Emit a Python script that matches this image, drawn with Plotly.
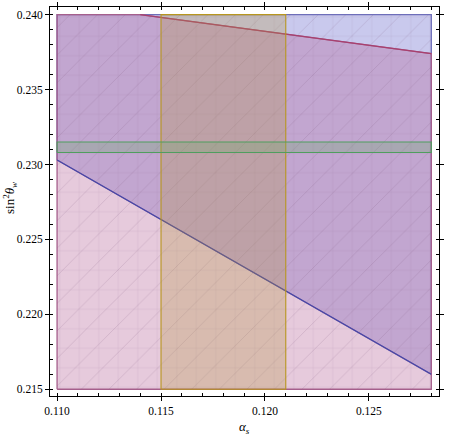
import plotly.graph_objects as go

# ---- data ----
x_range = [0.110, 0.128]          # alpha_s extent of regions
y_range = [0.215, 0.240]          # sin^2 theta_w extent of regions
blue_line_x = [0.110, 0.128]      # lower boundary of blue region
blue_line_y = [0.2303, 0.2160]
red_line_x = [0.114, 0.128]       # upper boundary of pink region
red_line_y = [0.240, 0.2374]
alpha_band = [0.115, 0.121]       # vertical band
sin2_band = [0.2308, 0.2315]      # horizontal band

x_ticks = [0.110, 0.115, 0.120, 0.125]
y_ticks = [0.215, 0.220, 0.225, 0.230, 0.235, 0.240]

fig = go.Figure()

# blue region (above blue line)
fig.add_trace(go.Scatter(
    x=[blue_line_x[0], blue_line_x[1], x_range[1], x_range[0], blue_line_x[0]],
    y=[blue_line_y[0], blue_line_y[1], y_range[1], y_range[1], blue_line_y[0]],
    fill="toself", mode="lines",
    fillcolor="rgba(90,90,200,0.33)",
    line=dict(color="rgba(110,110,185,1)", width=1.3),
    hoverinfo="skip", showlegend=False))

# pink region (below red line)
fig.add_trace(go.Scatter(
    x=[x_range[0], x_range[1], x_range[1], red_line_x[0], x_range[0], x_range[0]],
    y=[y_range[0], y_range[0], red_line_y[1], red_line_y[0], y_range[1], y_range[0]],
    fill="toself", mode="lines",
    fillcolor="rgba(180,95,150,0.33)",
    line=dict(color="rgba(165,95,140,1)", width=1.3),
    hoverinfo="skip", showlegend=False))

# boundary lines on top of the fills
fig.add_trace(go.Scatter(x=blue_line_x, y=blue_line_y, mode="lines",
    line=dict(color="#4646a6", width=1.2), hoverinfo="skip", showlegend=False))
fig.add_trace(go.Scatter(x=red_line_x, y=red_line_y, mode="lines",
    line=dict(color="#a8406e", width=1.2), hoverinfo="skip", showlegend=False))

# faint mesh texture across the regions
rect_x = [x_range[0], x_range[1], x_range[1], x_range[0], x_range[0]]
rect_y = [y_range[0], y_range[0], y_range[1], y_range[1], y_range[0]]
for shape in ["+", "/"]:
    fig.add_trace(go.Scatter(
        x=rect_x, y=rect_y, fill="toself", mode="none",
        fillcolor="rgba(0,0,0,0)",
        fillpattern=dict(shape=shape, size=19.5, solidity=0.05,
                         fgcolor="rgba(120,80,120,1)", fgopacity=0.18,
                         bgcolor="rgba(0,0,0,0)"),
        hoverinfo="skip", showlegend=False))

# alpha_s band
fig.add_trace(go.Scatter(
    x=[alpha_band[0], alpha_band[1], alpha_band[1], alpha_band[0], alpha_band[0]],
    y=[y_range[0], y_range[0], y_range[1], y_range[1], y_range[0]],
    fill="toself", mode="lines",
    fillcolor="rgba(180,150,60,0.28)",
    line=dict(color="#b8961e", width=1.1),
    hoverinfo="skip", showlegend=False))

# sin^2 band
fig.add_trace(go.Scatter(
    x=[x_range[0], x_range[1], x_range[1], x_range[0], x_range[0]],
    y=[sin2_band[0], sin2_band[0], sin2_band[1], sin2_band[1], sin2_band[0]],
    fill="toself", mode="lines",
    fillcolor="rgba(110,170,110,0.3)",
    line=dict(color="#4f9e5f", width=1.1),
    hoverinfo="skip", showlegend=False))

font = dict(family="Liberation Serif", size=11.5, color="black")
axis_common = dict(
    showline=True, linecolor="black", linewidth=1, mirror="ticks",
    ticks="outside", ticklen=4, tickcolor="black",
    showgrid=False, zeroline=False, tickformat=".3f",
    tickfont=font, automargin=False,
    minor=dict(ticks="inside", ticklen=3, tickcolor="black", dtick=0.001, showgrid=False),
)
fig.update_xaxes(range=[0.10966, 0.12837], tickvals=x_ticks, **axis_common)
fig.update_yaxes(range=[0.21455, 0.24051], tickvals=y_ticks, **axis_common)

fig.add_annotation(text="<i>α<sub>s</sub></i>", xref="paper", yref="paper",
                   x=(245 - 50) / 389, y=-(428 - 396) / 389, xanchor="center", yanchor="middle",
                   showarrow=False, font=dict(family="Liberation Serif", size=13, color="black"))
fig.add_annotation(text="sin<sup>2</sup><i>θ<sub>w</sub></i>", xref="paper", yref="paper",
                   x=(10 - 50) / 389, y=(396 - 198) / 389, xanchor="center", yanchor="middle",
                   textangle=-90, showarrow=False,
                   font=dict(family="Liberation Serif", size=13, color="black"))

fig.update_layout(
    width=462, height=440,
    margin=dict(l=50, r=23, t=7, b=44),
    plot_bgcolor="white", paper_bgcolor="white",
    font=font,
)
fig.write_html("out.html", config={"displayModeBar": False},
               post_script="document.body.style.margin='0';document.body.style.overflow='hidden';")
